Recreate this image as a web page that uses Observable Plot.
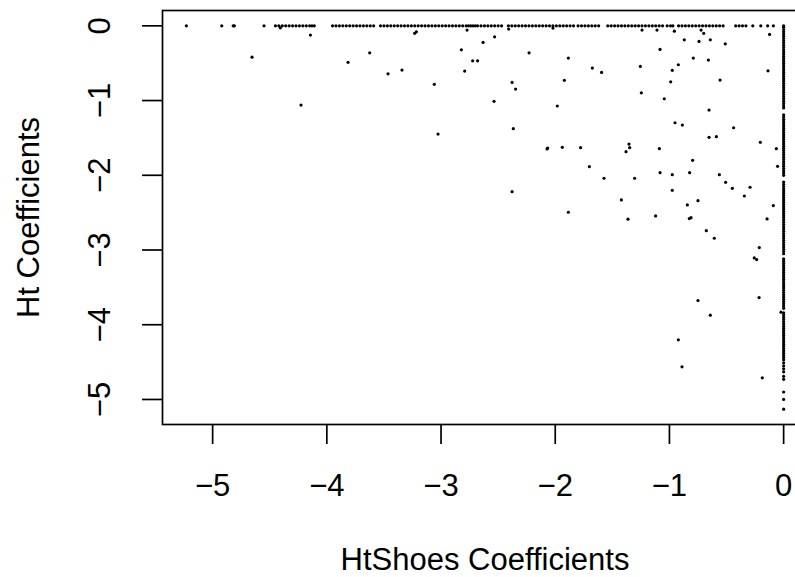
<!DOCTYPE html>
<html>
<head>
<meta charset="utf-8">
<script src="https://cdn.jsdelivr.net/npm/d3@7"></script>
<script src="https://cdn.jsdelivr.net/npm/@observablehq/plot@0.6"></script>
<style>
  html, body { margin: 0; padding: 0; background: white; overflow: hidden; }
  svg { max-width: none !important; }
</style>
</head>
<body>
<div id="chart"></div>
<script>
// Points lying on the y = 0 line (x values)
const rowX = [-5.23,-4.92,-4.82,-4.81,-4.55,
  -4.45,-4.42,-4.39,-4.36,-4.33,-4.30,-4.27,-4.24,-4.21,-4.18,-4.15,-4.13,-4.11,
  -3.95,-3.92,-3.89,-3.86,-3.83,-3.80,-3.77,-3.74,-3.71,-3.68,-3.65,-3.62,-3.59,
  -3.53,-3.50,-3.47,-3.44,-3.41,-3.38,-3.35,-3.32,-3.29,-3.26,-3.23,-3.20,-3.17,-3.14,-3.11,-3.08,-3.05,-3.02,-2.99,-2.96,-2.93,-2.90,-2.87,-2.84,-2.81,-2.78,-2.76,-2.74,-2.72,-2.70,-2.68,
  -2.65,-2.62,-2.59,-2.56,-2.53,-2.50,-2.47,
  -2.41,-2.38,-2.35,-2.32,-2.29,-2.26,-2.23,-2.20,-2.17,-2.14,-2.11,-2.08,-2.05,
  -2.02,-1.99,-1.96,-1.93,-1.90,-1.87,-1.84,
  -1.80,-1.77,-1.74,-1.71,-1.68,-1.65,-1.62,
  -1.54,-1.51,-1.48,-1.45,-1.42,-1.39,-1.36,-1.33,-1.30,-1.27,-1.24,-1.21,-1.18,-1.15,-1.12,-1.09,-1.06,
  -1.02,-0.99,-0.97,
  -0.92,-0.89,-0.86,-0.83,-0.80,-0.77,-0.74,-0.71,-0.68,-0.65,-0.62,-0.59,-0.56,-0.53,
  -0.42,-0.39,-0.36,-0.33,
  -0.27,-0.20,-0.14,-0.09, 0];

// Points lying on the x = 0 line (y values)
const colY = [-0.02,-0.05,-0.08,-0.11,-0.14,-0.17,-0.20,-0.23,-0.26,-0.29,-0.32,-0.35,-0.38,-0.41,-0.44,-0.47,-0.50,-0.53,-0.56,-0.59,-0.62,-0.65,-0.68,-0.71,-0.74,-0.77,-0.80,-0.83,-0.86,-0.89,-0.92,-0.95,-0.98,-1.01,-1.04,-1.07,-1.10,
  -1.19,-1.22,-1.25,-1.28,-1.31,-1.34,-1.37,-1.40,-1.43,-1.46,-1.49,-1.52,-1.55,-1.58,-1.61,-1.64,-1.67,-1.70,-1.73,-1.76,-1.79,-1.82,-1.85,-1.88,-1.91,-1.94,-1.97,-2.00,
  -2.09,-2.12,-2.15,-2.18,-2.21,-2.24,-2.27,-2.30,-2.33,-2.36,-2.39,-2.42,-2.45,-2.48,-2.51,-2.54,-2.57,-2.60,-2.63,-2.66,-2.69,-2.72,-2.75,-2.78,-2.81,-2.84,-2.87,-2.90,-2.93,-2.96,-2.99,-3.02,-3.05,
  -3.12,-3.15,-3.18,-3.21,-3.24,-3.27,-3.30,-3.33,-3.36,-3.39,-3.42,-3.45,-3.48,-3.51,-3.54,-3.57,-3.60,-3.63,-3.66,-3.69,-3.72,-3.75,-3.78,
  -3.84,-3.87,-3.90,-3.93,-3.96,-3.99,-4.02,-4.05,-4.08,-4.11,-4.14,-4.17,-4.20,-4.23,-4.26,-4.29,-4.32,-4.35,-4.38,-4.41,-4.44,-4.47,
  -4.51,-4.55,-4.59,-4.63,-4.69,-4.73,-4.90,-5.00,-5.13];

// Scattered points (HtShoes coefficient, Ht coefficient)
const scatterX = [-4.655,-4.226,-4.144,-3.814,-3.625,-3.464,-3.342,-3.231,-3.216,-3.059,-3.026,-2.822,-2.793,-2.723,-2.680,-2.772,-4.407,-2.632,-2.531,-2.229,
  -2.378,-2.347,-2.536,-2.367,-1.885,-1.920,-1.982,-1.675,-1.594,-1.255,-1.246,-1.240,-1.109,-1.082,-1.045,-0.989,-0.975,-0.922,-0.957,-0.951,
  -0.887,-0.870,-0.791,-0.741,-0.723,-0.700,-0.659,-0.653,-0.642,-0.557,-0.511,-0.653,-0.589,-0.438,-0.204,-0.123,-0.137,-2.408,-2.378,-2.072,
  -2.066,-1.938,-1.778,-1.885,-1.701,-1.573,-1.421,-1.363,-1.380,-1.354,-1.348,-1.305,-1.121,-1.088,-1.082,-0.975,-0.975,-0.843,-0.823,-0.797,
  -0.826,-0.811,-0.750,-0.677,-0.607,-0.563,-0.508,-0.449,-0.344,-0.294,-0.064,-0.053,-0.090,-0.145,-0.213,-0.257,-0.236,-0.750,-0.642,-0.215,
  -0.922,-0.890,-0.187,-0.023,-2.020];
const scatterY = [-0.420,-1.060,-0.124,-0.489,-0.361,-0.642,-0.592,-0.100,-0.080,-0.783,-1.448,-0.321,-0.606,-0.468,-0.468,-0.057,-0.027,-0.222,-0.147,-0.361,
  -0.757,-0.846,-1.011,-1.377,-0.432,-0.730,-1.073,-0.566,-0.623,-0.543,-0.896,-0.057,-0.057,-0.316,-0.976,-0.749,-0.596,-0.521,-0.071,-1.297,
  -1.328,-0.187,-0.432,-0.209,-0.057,-0.100,-0.459,-1.127,-0.187,-0.726,-0.241,-1.492,-1.484,-1.364,-1.559,-0.115,-0.602,-0.044,-2.219,-1.648,
  -1.635,-1.626,-1.631,-2.495,-1.885,-2.040,-2.330,-2.588,-1.684,-1.582,-1.631,-2.040,-2.544,-1.644,-1.965,-1.992,-2.201,-2.397,-1.965,-1.800,
  -2.580,-2.567,-2.340,-2.741,-2.843,-1.992,-2.094,-2.174,-2.277,-2.160,-1.644,-1.880,-2.406,-2.584,-2.968,-3.106,-3.128,-3.676,-3.872,-3.636,
  -4.202,-4.563,-4.710,-3.832,-0.030];

const xTicks = [-5, -4, -3, -2, -1, 0];
const yTicks = [-5, -4, -3, -2, -1, 0];
const xTitle = "HtShoes Coefficients";
const yTitle = "Ht Coefficients";

const points = [
  ...rowX.map(x => ({x, y: 0})),
  ...colY.map(y => ({x: 0, y})),
  ...scatterX.map((x, i) => ({x, y: scatterY[i]}))
];

const fmt = d3.format("d");
const FS = 31;
const FONT = "'Liberation Sans', Arial, Helvetica, sans-serif";

const chart = Plot.plot({
  width: 807,
  height: 577,
  marginLeft: 162,
  marginRight: 0,
  marginTop: 10,
  marginBottom: 153,
  style: {fontFamily: FONT, fontSize: FS + "px", background: "white", color: "black", maxWidth: "none"},
  x: {domain: [-5.439, 0.209]},
  y: {domain: [-5.335, 0.205]},
  marks: [
    Plot.frame({stroke: "black", strokeWidth: 1.7}),
    Plot.axisX({ticks: xTicks, tickSize: 20, tickPadding: 29, fontSize: FS, tickFormat: fmt, strokeWidth: 1.7, label: null}),
    Plot.axisY({ticks: yTicks, tickSize: 20, fill: "none", strokeWidth: 1.7, label: null, tickFormat: () => ""}),
    Plot.text(yTicks, {y: d => d, frameAnchor: "left", dx: -62, rotate: -90, text: d => fmt(d), fontSize: FS, textAnchor: "middle", lineAnchor: "middle", fill: "black"}),
    Plot.text([xTitle], {frameAnchor: "bottom", dy: 136, text: d => d, fontSize: FS, textAnchor: "middle", lineAnchor: "middle", fill: "black"}),
    Plot.text([yTitle], {frameAnchor: "left", dx: -133, rotate: -90, text: d => d, fontSize: FS, textAnchor: "middle", lineAnchor: "middle", fill: "black"}),
    Plot.dot(points, {x: "x", y: "y", r: 1.6, fill: "black", stroke: "none"})
  ]
});
document.getElementById("chart").appendChild(chart);
</script>
</body>
</html>
